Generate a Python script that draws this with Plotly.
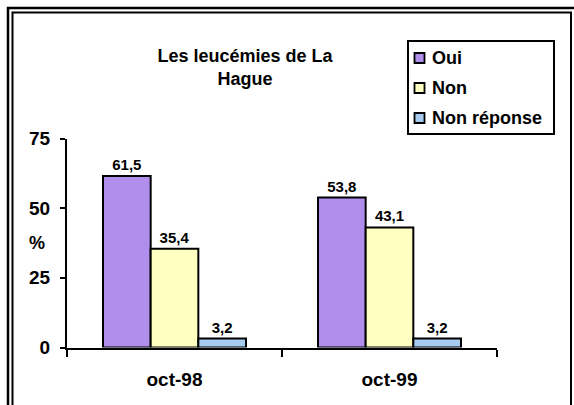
import plotly.graph_objects as go

# Survey results: "Les leucémies de La Hague"
periods = ["oct-98", "oct-99"]
answers = ["Oui", "Non", "Non réponse"]
oui = [61.5, 53.8]
non = [35.4, 43.1]
non_reponse = [3.2, 3.2]
series = [oui, non, non_reponse]
colors = ["#B18EEC", "#FFFFC2", "#A7CBF0"]
y_ticks = [0, 25, 50, 75]
title_text = "Les leucémies de La<br>Hague"
y_label = "%"

W, H = 574, 405
FONT = "Liberation Sans, Arial, sans-serif"


def px_x(x):
    return x / W


def px_y(y):
    return 1 - y / H


fig = go.Figure()
for name, vals, col in zip(answers, series, colors):
    fig.add_trace(go.Bar(
        x=periods, y=vals, name=name, showlegend=False,
        marker=dict(color=col, line=dict(color="black", width=2)),
        texttemplate="<b>%{y:.1f}</b>", textposition="outside",
        textfont=dict(family=FONT, size=15, color="black"),
        cliponaxis=False,
    ))

shapes = [
    # double frame around the chart
    dict(type="rect", xref="paper", yref="paper",
         x0=px_x(8), x1=px_x(580), y0=px_y(8), y1=px_y(420),
         line=dict(color="black", width=2.5), fillcolor="rgba(0,0,0,0)"),
    dict(type="rect", xref="paper", yref="paper",
         x0=px_x(12.5), x1=px_x(571), y0=px_y(12.5), y1=px_y(420),
         line=dict(color="black", width=2), fillcolor="rgba(0,0,0,0)"),
    # legend box
    dict(type="rect", xref="paper", yref="paper",
         x0=px_x(408), x1=px_x(554), y0=px_y(41), y1=px_y(134),
         line=dict(color="black", width=2), fillcolor="white"),
]
annotations = [
    dict(text="<b>" + y_label + "</b>", xref="paper", yref="paper",
         x=px_x(37), y=px_y(243), xanchor="center", yanchor="middle",
         showarrow=False, font=dict(family=FONT, size=18, color="black")),
]

# legend entries: swatch + label
for i, (name, col) in enumerate(zip(answers, colors)):
    cy = 58 + 30 * i
    shapes.append(dict(type="rect", xref="paper", yref="paper",
                       x0=px_x(414.5), x1=px_x(424.5),
                       y0=px_y(cy - 5), y1=px_y(cy + 5),
                       line=dict(color="black", width=1.8), fillcolor=col))
    annotations.append(dict(text="<b>" + name + "</b>", xref="paper", yref="paper",
                            x=px_x(430), y=px_y(cy), xanchor="left",
                            yanchor="middle", showarrow=False,
                            font=dict(family=FONT, size=18, color="black")))

fig.update_layout(
    width=W, height=H, autosize=False,
    margin=dict(l=0, r=0, t=0, b=0, pad=0),
    paper_bgcolor="white", plot_bgcolor="white",
    separators=", ",
    barmode="group", bargap=0.335, bargroupgap=0,
    font=dict(family=FONT, color="black"),
    showlegend=False,
    title=dict(text="<b>" + title_text + "</b>", x=px_x(245), xanchor="center",
               y=px_y(62), yanchor="middle", xref="container", yref="container",
               automargin=False,
               font=dict(family=FONT, size=18, color="black")),
    xaxis=dict(domain=[px_x(67), px_x(497)], type="category", automargin=False,
               showline=True, linecolor="black", linewidth=2,
               ticks="outside", tickson="boundaries", ticklen=7,
               tickwidth=2, tickcolor="black", showgrid=False,
               tickfont=dict(family=FONT, size=19, color="black"),
               ticklabelstandoff=14,
               tickvals=periods, ticktext=["<b>%s</b>" % p for p in periods]),
    yaxis=dict(domain=[px_y(347.5), px_y(138.5)], range=[0, 75], automargin=False,
               showline=True, linecolor="black", linewidth=2,
               ticks="outside", ticklen=5, tickwidth=2, tickcolor="black",
               showgrid=False, zeroline=False,
               tickvals=y_ticks, ticktext=["<b>%d</b>" % v for v in y_ticks],
               tickfont=dict(family=FONT, size=19, color="black"),
               ticklabelstandoff=6),
    annotations=annotations,
    shapes=shapes,
)

fig.write_html("out.html")
